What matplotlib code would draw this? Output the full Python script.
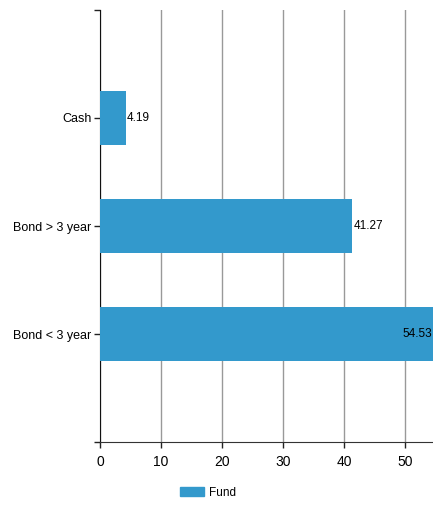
import matplotlib
matplotlib.use("Agg")
import matplotlib.pyplot as plt
from matplotlib.patches import Patch

categories = ["Cash", "Bond > 3 year", "Bond < 3 year"]
values = [4.19, 41.27, 54.53]
series_name = "Fund"
xticks = [0, 10, 20, 30, 40, 50]

plt.rcParams['font.family'] = ['Liberation Sans', 'DejaVu Sans']
color = '#3399cc'

fig = plt.figure(figsize=(4.33, 5.05), dpi=100)
ax = fig.add_axes([100/433, 63/505, 333/433, 432/505])

pos = list(range(1, len(categories) + 1))
ax.barh(pos, values, height=0.5, color=color, zorder=3)
ax.set_ylim(len(categories) + 1, 0)
xmax = max(values)
ax.set_xlim(0, xmax)
ax.set_xticks(xticks)
ax.set_yticks([0] + pos + [len(categories) + 1])
ax.set_yticklabels([""] + categories + [""], fontsize=9)
ax.tick_params(axis='x', labelsize=10, length=4, width=1, color='#222222', pad=5)
ax.tick_params(axis='y', length=4, width=1, color='#222222', pad=2)
ax.grid(axis='x', color='#999999', linewidth=1, zorder=0)
for s in ['top', 'right']:
    ax.spines[s].set_visible(False)
ax.spines['left'].set_color('#111111')
ax.spines['bottom'].set_color('#333333')

for p, v in zip(pos, values):
    if v > xmax * 0.95:
        ax.text(v - 0.1, p, f"{v:.2f}", ha='right', va='center', fontsize=8.5, zorder=4)
    else:
        ax.text(v + 0.2, p, f"{v:.2f}", ha='left', va='center', fontsize=8.5, zorder=4)

fig.legend(handles=[Patch(color=color, label=series_name)], loc='center',
           bbox_to_anchor=(208/433, 1 - 493/505), frameon=False, fontsize=8.5,
           handlelength=2.0, handleheight=0.8, handletextpad=0.4)

fig.savefig("out.png", dpi=100)
